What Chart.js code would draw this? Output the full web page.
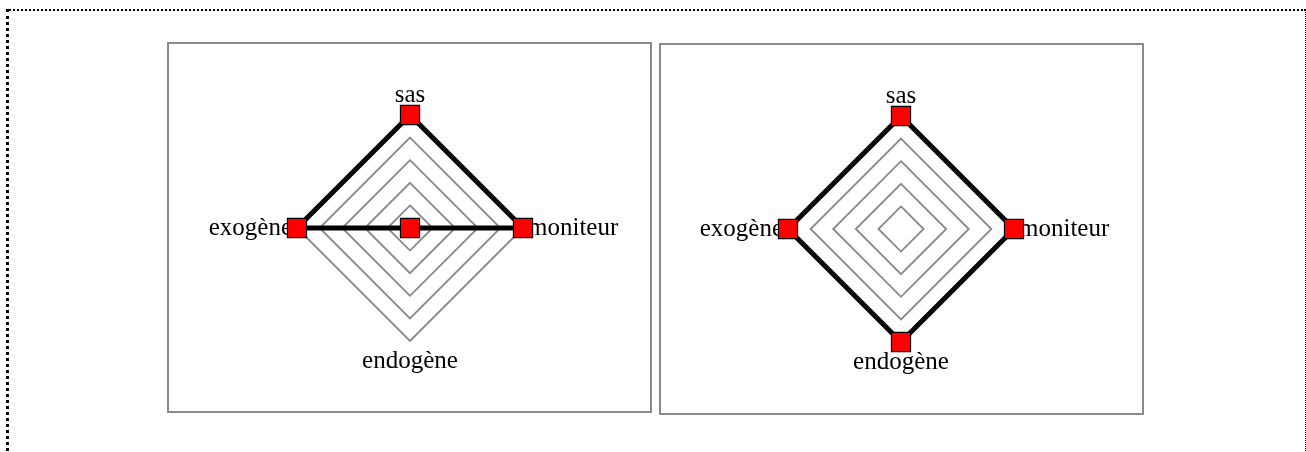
<!DOCTYPE html>
<html>
<head>
<meta charset="utf-8">
<script src="https://cdn.jsdelivr.net/npm/chart.js@4.4.1/dist/chart.umd.min.js"></script>
<style>
  html, body { margin:0; padding:0; background:#fff; width:1306px; height:452px; overflow:hidden; }
  .frame { position:absolute; left:6px; top:9px; width:1300px; height:520px; box-sizing:border-box;
    border-top:2px dotted #000; border-left:3px dotted #000; border-right:1px dotted #000; border-bottom:none; }
  .box { position:absolute; box-sizing:border-box; border:2px solid #8a8a8a; }
  canvas { position:absolute; }
</style>
</head>
<body>
<div class="frame"></div>
<div class="box" style="left:167px; top:42px; width:485px; height:371px;"></div>
<div class="box" style="left:659px; top:43px; width:485px; height:372px;"></div>
<canvas id="c1" width="500" height="296" style="left:160px; top:80px;"></canvas>
<canvas id="c2" width="501" height="296" style="left:651px; top:81px;"></canvas>
<script>
const categories = ['sas', 'moniteur', 'endogène', 'exogène'];
const valuesLeft = [5, 5, 0, 5];
const valuesRight = [5, 5, 5, 5];
const scaleMin = 0;
const scaleMax = 5;
const scaleStep = 1;

function makeRadar(id, values) {
  return new Chart(document.getElementById(id), {
    type: 'radar',
    data: {
      labels: categories,
      datasets: [{
        data: values,
        fill: false,
        borderColor: '#000',
        borderWidth: 5,
        tension: 0,
        pointStyle: 'rect',
        pointRadius: 13.5,
        pointHoverRadius: 13.5,
        pointBackgroundColor: '#ff0000',
        pointBorderColor: '#000',
        pointBorderWidth: 1.2
      }]
    },
    options: {
      responsive: false,
      animation: false,
      devicePixelRatio: 1,
      events: [],
      plugins: { legend: { display: false }, tooltip: { enabled: false }, title: { display: false } },
      layout: { padding: 0 },
      scales: {
        r: {
          min: scaleMin,
          max: scaleMax,
          ticks: { stepSize: scaleStep, display: false },
          angleLines: { display: false },
          grid: { color: '#888888', lineWidth: 1.8, circular: false },
          pointLabels: {
            display: true,
            padding: 5,
            color: '#000',
            font: { family: '"Liberation Serif", "Times New Roman", serif', size: 25 }
          }
        }
      }
    }
  });
}
makeRadar('c1', valuesLeft);
makeRadar('c2', valuesRight);
</script>
</body>
</html>
